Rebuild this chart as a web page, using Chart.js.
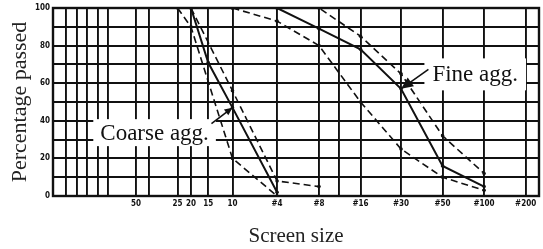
<!DOCTYPE html>
<html>
<head>
<meta charset="utf-8">
<script src="https://cdn.jsdelivr.net/npm/chart.js@4.4.1/dist/chart.umd.min.js"></script>
<style>
  html, body { margin: 0; padding: 0; background: #fff; }
  #wrap { width: 543px; height: 249px; }
</style>
</head>
<body>
<div id="wrap"><canvas id="grading"></canvas></div>
<script>
// sieve openings (mm) and the names printed under them
const sieveMm = [50, 25, 20, 15, 10, 4.75, 2.36, 1.18, 0.6, 0.3, 0.15, 0.075];
const sieveLabels = ['50', '25', '20', '15', '10', '#4', '#8', '#16', '#30', '#50', '#100', '#200'];
// unlabelled vertical rulings of the paper
const extraGridMm = [160, 135, 113, 95, 80, 40, 1.7];
const yTickLabels = [0, 20, 40, 60, 80, 100];

// percentage passed on each sieve (null = not plotted)
const coarseLower  = [null, 100, 90, null, 20, 0, null, null, null, null, null, null];
const coarseActual = [null, null, 100, 71, 47, 2, null, null, null, null, null, null];
const coarseUpper  = [null, null, 100, null, 56, 8, 5, null, null, null, null, null];
const fineLower    = [null, null, null, null, 100, 93, 80, 50, 25, 10, 3, null];
const fineActual   = [null, null, null, null, 100, 100, 89, 78, 57, 16, 5, null];
const fineUpper    = [null, null, null, null, null, 100, 100, 85, 65, 32, 12, null];

const ink = '#111';

function pts(vals) {
  const out = [];
  vals.forEach((v, i) => { if (v !== null) out.push({ x: sieveMm[i], y: v }); });
  return out;
}

function series(vals, dashed) {
  return {
    data: pts(vals),
    borderColor: ink,
    backgroundColor: ink,
    borderWidth: dashed ? 1.6 : 2,
    borderDash: dashed ? [7, 4] : [],
    pointRadius: 1.8,
    pointBorderWidth: 0,
    tension: 0
  };
}

// callouts, placed in data units
const callouts = [
  { text: 'Coarse agg.', at: { x: 36.7, y: 33.7 }, h: 27, pad: 7,
    tail: { x: 14.2, y: 38.5 }, tip: { x: 10, y: 47 }, head: 8 },
  { text: 'Fine agg.', at: { x: 0.174, y: 64.7 }, h: 32, pad: 8,
    tail: { x: 0.38, y: 67.4 }, tip: { x: 0.6, y: 57 }, head: 12 }
];

const notes = {
  id: 'notes',
  beforeDatasetsDraw(chart) {
    const { ctx, chartArea: a, scales: { x, y } } = chart;
    ctx.save();
    ctx.font = '23px "Liberation Serif", "Times New Roman", serif';
    ctx.textAlign = 'center';
    ctx.textBaseline = 'middle';
    callouts.forEach(c => {
      const w = ctx.measureText(c.text).width;
      const cx = x.getPixelForValue(c.at.x);
      const cy = y.getPixelForValue(c.at.y);
      ctx.fillStyle = '#fff';
      ctx.fillRect(cx - w / 2 - c.pad, cy - c.h / 2, w + 2 * c.pad, c.h);
      ctx.fillStyle = ink;
      ctx.fillText(c.text, cx, cy + 1);
    });
    ctx.strokeStyle = ink;
    ctx.lineWidth = 2.4;
    ctx.strokeRect(a.left, a.top, a.width, a.height);
    ctx.restore();
  },
  afterDatasetsDraw(chart) {
    const { ctx, scales: { x, y } } = chart;
    ctx.save();
    ctx.strokeStyle = ink;
    ctx.fillStyle = ink;
    ctx.lineWidth = 1.6;
    callouts.forEach(c => {
      const x0 = x.getPixelForValue(c.tail.x), y0 = y.getPixelForValue(c.tail.y);
      const x1 = x.getPixelForValue(c.tip.x), y1 = y.getPixelForValue(c.tip.y);
      const ang = Math.atan2(y1 - y0, x1 - x0);
      ctx.beginPath();
      ctx.moveTo(x0, y0);
      ctx.lineTo(x1, y1);
      ctx.stroke();
      const hw = c.head * 0.45;
      ctx.beginPath();
      ctx.moveTo(x1, y1);
      ctx.lineTo(x1 - c.head * Math.cos(ang) + hw * Math.sin(ang), y1 - c.head * Math.sin(ang) - hw * Math.cos(ang));
      ctx.lineTo(x1 - c.head * Math.cos(ang) - hw * Math.sin(ang), y1 - c.head * Math.sin(ang) + hw * Math.cos(ang));
      ctx.closePath();
      ctx.fill();
    });
    ctx.restore();
  }
};

const tickFont = { family: '"DejaVu Sans Condensed", "Liberation Sans Narrow", "DejaVu Sans", sans-serif', size: 8, weight: 'bold' };
const titleFont = { family: '"Liberation Serif", "Times New Roman", serif', size: 21 };

new Chart(document.getElementById('grading'), {
  type: 'line',
  data: {
    datasets: [
      series(coarseLower, true),
      series(coarseActual, false),
      series(coarseUpper, true),
      series(fineLower, true),
      series(fineActual, false),
      series(fineUpper, true)
    ]
  },
  options: {
    responsive: true,
    maintainAspectRatio: false,
    animation: false,
    layout: { padding: { top: 8, right: 2, left: 0, bottom: 0 } },
    plugins: { legend: { display: false }, tooltip: { enabled: false } },
    scales: {
      x: {
        type: 'logarithmic',
        reverse: true,
        min: 0.06,
        max: 200,
        afterBuildTicks: (s) => {
          s.ticks = sieveMm.concat(extraGridMm).map(v => ({ value: v }));
        },
        afterFit: (s) => { s.height = 53; },
        grid: { color: ink, lineWidth: 1.9, drawTicks: false },
        border: { display: false },
        ticks: {
          autoSkip: false,
          maxRotation: 0,
          padding: 3,
          color: ink,
          font: tickFont,
          callback: (v) => {
            const i = sieveMm.indexOf(v);
            return i >= 0 ? sieveLabels[i] : '';
          }
        },
        title: { display: true, text: 'Screen size', color: '#222', font: titleFont, padding: 0 }
      },
      y: {
        min: 0,
        max: 100,
        afterFit: (s) => { s.width = 53; },
        grid: { color: ink, lineWidth: 1.9, drawTicks: false },
        border: { display: false },
        ticks: {
          stepSize: 10,
          padding: 3,
          color: ink,
          font: tickFont,
          callback: (v) => yTickLabels.includes(v) ? String(v) : ''
        },
        title: { display: true, text: 'Percentage passed', color: '#222',
          font: { family: titleFont.family, size: 22 }, padding: { top: 7, bottom: 0 } }
      }
    }
  },
  plugins: [notes]
});
</script>
</body>
</html>
